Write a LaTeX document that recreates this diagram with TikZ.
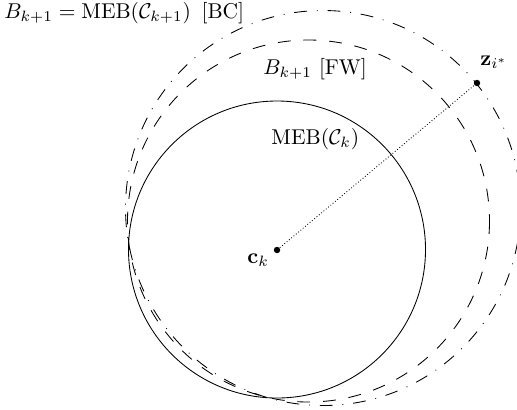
\documentclass[tikz,border=0pt]{standalone}
\usepackage{amsmath}
\begin{document}
\begin{tikzpicture}[x=0.467pt,y=-0.467pt,
  dotmark/.style={circle,fill=black,inner sep=0pt,minimum size=3pt},
  lbl/.style={inner sep=0pt,anchor=base west},
  fwline/.style={dash pattern=on 6pt off 6pt},
  bcline/.style={dash pattern=on 6pt off 4.6pt on 0.4pt off 4.6pt},
  link/.style={densely dotted}]
\useasboundingbox (0,0) rectangle (517,409);
\begin{scope}
\clip (0,0) rectangle (517,409);
% circles
\draw (277,249.5) circle[radius=148.5];
\draw[fwline] (308.5,221) circle[radius=181];
\draw[bcline] (323,208) circle[radius=197.5];
\end{scope}
% points
\node[dotmark] (ck) at (277,250) {};
\node[dotmark] (z) at (477,83) {};
\draw[link] (ck) -- (z);
% labels
\node[lbl] (lbc) at (4,18.5) {$B_{k+1} = \mathrm{MEB}(\mathcal{C}_{k+1})\ \,[\mathrm{BC}]$};
\node[lbl] (lfw) at (263,74) {$B_{k+1}$ [FW]};
\node[lbl] (lmeb) at (271,144) {$\mathrm{MEB}(\mathcal{C}_k)$};
\node[lbl] (lck) at (247,263) {$\mathbf{c}_k$};
\node[lbl] (lz) at (480,65) {$\mathbf{z}_{i^*}$};
\end{tikzpicture}
\end{document}
